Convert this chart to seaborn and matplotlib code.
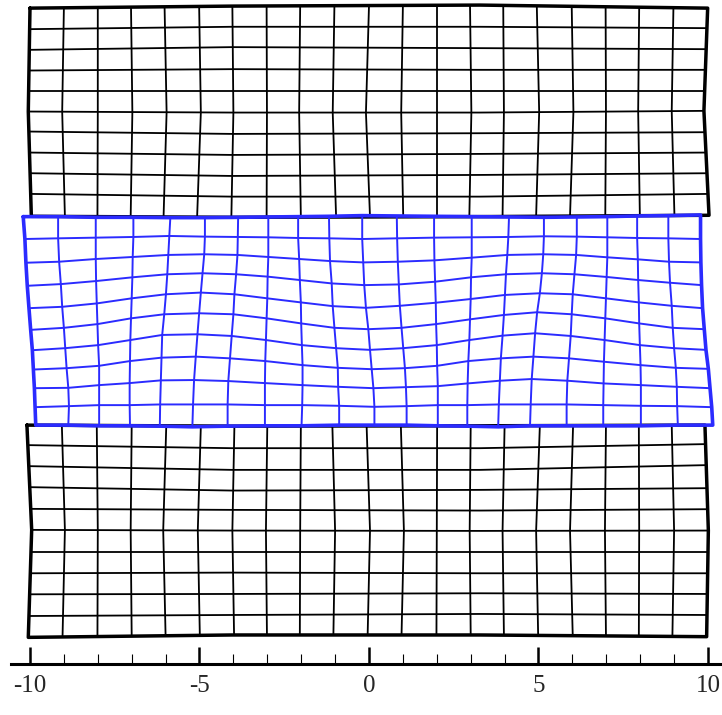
import numpy as np
import pandas as pd
import matplotlib
matplotlib.use("Agg")
import matplotlib.pyplot as plt
from matplotlib.ticker import MultipleLocator, FixedLocator, FixedFormatter
import seaborn as sns

# ---------------------------------------------------------------
# Deformed finite-element mesh of a three-layer strip.
# ---------------------------------------------------------------

# Middle (soft) layer, 11 rows x 21 columns of nodes.
# x of every node, one list per mesh column (rows top -> bottom)
mid_x_cols = [
    [-10.20, -10.15, -10.12, -10.08, -10.03, -9.98, -9.93, -9.90, -9.87, -9.85, -9.83],
    [-9.17, -9.17, -9.14, -9.09, -9.05, -9.00, -8.96, -8.92, -8.87, -8.85, -8.87],
    [-8.06, -8.06, -8.06, -8.05, -8.03, -8.01, -7.99, -7.96, -7.96, -7.96, -7.96],
    [-6.95, -6.95, -6.97, -6.98, -7.00, -7.02, -7.04, -7.05, -7.06, -7.06, -7.05],
    [-5.86, -5.89, -5.92, -5.95, -5.99, -6.04, -6.10, -6.12, -6.14, -6.16, -6.17],
    [-4.84, -4.84, -4.86, -4.91, -4.96, -5.01, -5.06, -5.11, -5.16, -5.19, -5.21],
    [-3.86, -3.87, -3.88, -3.92, -3.97, -4.00, -4.05, -4.10, -4.15, -4.17, -4.17],
    [-2.97, -2.97, -2.97, -2.99, -3.00, -3.02, -3.04, -3.06, -3.07, -3.07, -3.07],
    [-2.09, -2.09, -2.06, -2.04, -2.01, -2.00, -1.98, -1.96, -1.96, -1.97, -1.99],
    [-1.18, -1.17, -1.15, -1.10, -1.07, -1.02, -0.97, -0.92, -0.91, -0.88, -0.88],
    [-0.20, -0.20, -0.17, -0.14, -0.09, -0.02, 0.03, 0.08, 0.13, 0.16, 0.16],
    [0.82, 0.83, 0.85, 0.88, 0.91, 0.96, 1.01, 1.06, 1.09, 1.11, 1.11],
    [1.92, 1.92, 1.93, 1.95, 1.97, 1.98, 2.00, 2.01, 2.03, 2.03, 2.03],
    [3.03, 3.03, 3.03, 3.01, 3.00, 2.98, 2.96, 2.93, 2.91, 2.90, 2.90],
    [4.13, 4.11, 4.08, 4.04, 4.01, 3.98, 3.94, 3.89, 3.86, 3.83, 3.81],
    [5.16, 5.16, 5.14, 5.10, 5.04, 4.96, 4.90, 4.85, 4.80, 4.77, 4.75],
    [6.13, 6.13, 6.11, 6.06, 6.01, 5.98, 5.95, 5.90, 5.85, 5.83, 5.83],
    [7.03, 7.03, 7.03, 7.01, 6.99, 6.97, 6.95, 6.93, 6.92, 6.91, 6.91],
    [7.91, 7.91, 7.93, 7.94, 7.96, 7.97, 7.99, 8.01, 8.02, 8.02, 8.02],
    [8.83, 8.83, 8.85, 8.88, 8.93, 8.96, 9.00, 9.05, 9.08, 9.09, 9.11],
    [9.78, 9.78, 9.79, 9.81, 9.84, 9.89, 9.94, 10.01, 10.06, 10.11, 10.14],
]

# y of every middle-layer node, one list per mesh row (columns left -> right)
mid_y_rows = [
    [12.37, 12.37, 12.35, 12.35, 12.34, 12.34, 12.35, 12.36, 12.37, 12.38, 12.40,
     12.39, 12.38, 12.37, 12.36, 12.35, 12.36, 12.37, 12.39, 12.40, 12.42],
    [11.71, 11.73, 11.75, 11.77, 11.80, 11.78, 11.77, 11.76, 11.74, 11.73, 11.71,
     11.73, 11.75, 11.76, 11.77, 11.79, 11.78, 11.76, 11.74, 11.73, 11.71],
    [11.01, 11.04, 11.12, 11.18, 11.24, 11.26, 11.24, 11.18, 11.12, 11.06, 11.02,
     11.04, 11.08, 11.16, 11.24, 11.26, 11.24, 11.17, 11.11, 11.04, 11.02],
    [10.33, 10.38, 10.47, 10.58, 10.67, 10.70, 10.67, 10.60, 10.50, 10.40, 10.35,
     10.37, 10.45, 10.58, 10.67, 10.70, 10.67, 10.59, 10.50, 10.42, 10.35],
    [9.67, 9.71, 9.81, 9.96, 10.08, 10.13, 10.08, 9.96, 9.84, 9.73, 9.68,
     9.74, 9.83, 9.94, 10.06, 10.11, 10.08, 9.96, 9.84, 9.74, 9.67],
    [9.03, 9.09, 9.20, 9.37, 9.49, 9.52, 9.49, 9.37, 9.22, 9.09, 9.05,
     9.09, 9.20, 9.34, 9.47, 9.55, 9.49, 9.37, 9.22, 9.09, 9.05],
    [8.43, 8.49, 8.58, 8.73, 8.88, 8.90, 8.85, 8.73, 8.58, 8.49, 8.44,
     8.49, 8.58, 8.73, 8.86, 8.93, 8.85, 8.73, 8.58, 8.49, 8.44],
    [7.86, 7.90, 7.97, 8.11, 8.21, 8.24, 8.19, 8.11, 7.99, 7.91, 7.87,
     7.90, 7.97, 8.11, 8.19, 8.24, 8.19, 8.09, 7.99, 7.91, 7.88],
    [7.31, 7.32, 7.40, 7.46, 7.54, 7.55, 7.52, 7.46, 7.40, 7.35, 7.31,
     7.34, 7.37, 7.45, 7.53, 7.58, 7.53, 7.45, 7.40, 7.35, 7.31],
    [6.75, 6.78, 6.81, 6.81, 6.83, 6.83, 6.83, 6.81, 6.81, 6.79, 6.76,
     6.78, 6.81, 6.81, 6.83, 6.83, 6.83, 6.81, 6.79, 6.78, 6.75],
    [6.22, 6.22, 6.20, 6.20, 6.19, 6.17, 6.19, 6.20, 6.20, 6.22, 6.22,
     6.22, 6.20, 6.19, 6.17, 6.20, 6.20, 6.20, 6.20, 6.22, 6.22],
]

# Upper and lower (stiff) layers.
# Column lines: x at the top row, the middle row and the bottom row.
top_col_x = [
    [-10.00, -10.05, -9.96], [-9.00, -9.05, -8.97], [-8.00, -8.00, -8.01],
    [-7.02, -6.98, -7.03], [-6.03, -5.97, -6.06], [-5.01, -4.96, -5.07],
    [-4.03, -4.00, -4.06], [-3.02, -3.01, -3.02], [-2.03, -2.06, -2.01],
    [-1.02, -1.07, -0.97], [0.00, -0.09, 0.03], [1.00, 0.95, 1.01],
    [2.00, 2.00, 2.00], [2.98, 3.02, 2.96], [3.96, 3.98, 3.94],
    [4.95, 5.02, 4.93], [5.98, 6.03, 5.93], [6.98, 6.99, 6.97],
    [7.97, 7.94, 7.99], [8.98, 8.93, 9.01], [9.99, 9.88, 10.03],
]
bot_col_x = [
    [-10.09, -9.95, -10.05], [-9.06, -8.97, -9.04], [-8.03, -8.00, -8.01],
    [-7.00, -7.03, -7.00], [-5.98, -6.07, -6.00], [-4.96, -5.05, -4.99],
    [-3.97, -4.03, -3.98], [-3.00, -3.04, -3.01], [-2.01, -2.03, -2.04],
    [-1.08, -1.00, -1.05], [-0.07, 0.03, -0.04], [0.94, 1.03, 0.96],
    [2.01, 2.00, 1.99], [3.00, 2.97, 3.00], [4.00, 3.94, 3.98],
    [5.04, 4.93, 4.99], [6.02, 5.93, 6.01], [6.99, 6.96, 6.99],
    [7.96, 7.97, 7.96], [8.93, 9.00, 8.95], [9.91, 10.01, 9.96],
]
col_key_rows = [0, 5, 10]

# Row lines: y at the left edge, at two interior stations, and at the right edge.
row_stations = [-4.04, 3.27]
top_row_y = [
    [18.52, 18.58, 18.61, 18.52],
    [17.90, 17.97, 17.97, 17.93],
    [17.29, 17.37, 17.34, 17.31],
    [16.68, 16.72, 16.70, 16.70],
    [16.09, 16.09, 16.09, 16.09],
    [15.47, 15.44, 15.44, 15.49],
    [14.88, 14.81, 14.83, 14.86],
    [14.26, 14.19, 14.22, 14.26],
    [13.65, 13.57, 13.60, 13.65],
    [13.04, 12.96, 12.96, 13.04],
    [12.38, 12.35, 12.37, 12.41],
]
bot_row_y = [
    [6.22, 6.19, 6.20, 6.22],
    [5.63, 5.54, 5.54, 5.66],
    [5.01, 4.90, 4.90, 5.04],
    [4.39, 4.29, 4.31, 4.36],
    [3.75, 3.72, 3.70, 3.74],
    [3.13, 3.11, 3.10, 3.11],
    [2.49, 2.49, 2.49, 2.49],
    [1.85, 1.87, 1.85, 1.85],
    [1.23, 1.24, 1.26, 1.24],
    [0.59, 0.62, 0.65, 0.62],
    [-0.04, 0.03, 0.03, -0.02],
]

# Axis ticks
major_ticks = [-10, -5, 0, 5, 10]
major_labels = ["-10", "-5", "0", "5", "10"]

BLUE = "#2b2bff"
BLACK = "#000000"


def node_mesh_lines(x_cols, y_rows):
    """Row and column polylines of a mesh given every node."""
    X = np.asarray(x_cols, dtype=float).T
    Y = np.asarray(y_rows, dtype=float)
    nr, nc = X.shape
    inner = [(X[r], Y[r]) for r in range(1, nr - 1)]
    inner += [(X[:, c], Y[:, c]) for c in range(1, nc - 1)]
    ox = np.concatenate([X[0], X[1:, -1], X[-1, ::-1][1:], X[::-1, 0][1:]])
    oy = np.concatenate([Y[0], Y[1:, -1], Y[-1, ::-1][1:], Y[::-1, 0][1:]])
    return inner, (ox, oy)


def station_mesh_lines(col_x, row_y, stations, key_rows):
    """Row/column polylines of a mesh given column lines at key rows
    and row lines at fixed stations."""
    cx = np.asarray(col_x, dtype=float)
    ry = np.asarray(row_y, dtype=float)
    nr = ry.shape[0]
    rows = np.arange(nr)
    left_x = np.interp(rows, key_rows, cx[0])
    right_x = np.interp(rows, key_rows, cx[-1])
    hx = [np.concatenate([[left_x[r]], stations, [right_x[r]]]) for r in range(nr)]
    hy = [ry[r] for r in range(nr)]

    def col_line(c):
        xs = cx[c]
        ys = np.array([np.interp(xs[k], hx[r], hy[r]) for k, r in enumerate(key_rows)])
        return xs, ys

    inner = [(hx[r], hy[r]) for r in range(1, nr - 1)]
    inner += [col_line(c) for c in range(1, cx.shape[0] - 1)]
    lx, ly = col_line(0)
    rx, rgt_y = col_line(cx.shape[0] - 1)
    ox = np.concatenate([hx[0], rx[1:], hx[-1][::-1][1:], lx[::-1][1:]])
    oy = np.concatenate([hy[0], rgt_y[1:], hy[-1][::-1][1:], ly[::-1][1:]])
    return inner, (ox, oy)


def to_frame(lines):
    return pd.concat(
        [pd.DataFrame({"x": x, "y": y, "line": i}) for i, (x, y) in enumerate(lines)],
        ignore_index=True,
    )


sns.set_theme(style="white")
plt.rcParams["font.family"] = ["Liberation Serif", "DejaVu Serif"]
plt.rcParams["axes.unicode_minus"] = False

fig = plt.figure(figsize=(7.22, 7.15), dpi=100)
ax = fig.add_axes([11 / 722, 51 / 715, 711 / 722, 664 / 715])

layers = [
    (station_mesh_lines(top_col_x, top_row_y, row_stations, col_key_rows), BLACK, 1.3, 2.5),
    (station_mesh_lines(bot_col_x, bot_row_y, row_stations, col_key_rows), BLACK, 1.3, 2.5),
    (node_mesh_lines(mid_x_cols, mid_y_rows), BLUE, 1.4, 2.6),
]

for (inner, outline), col, lw_in, lw_out in layers:
    sns.lineplot(data=to_frame(inner), x="x", y="y", units="line", estimator=None,
                 sort=False, color=col, linewidth=lw_in, ax=ax, legend=False)
    sns.lineplot(data=to_frame([outline]), x="x", y="y", units="line", estimator=None,
                 sort=False, color=col, linewidth=lw_out, ax=ax, legend=False,
                 solid_joinstyle="round")

ax.set_xlim(-10.56, 10.413)
ax.set_ylim(-0.826, 18.76)
ax.set_xlabel("")
ax.set_ylabel("")
ax.set_yticks([])

for side in ("left", "right", "top"):
    ax.spines[side].set_visible(False)
ax.spines["bottom"].set_linewidth(2.2)
ax.spines["bottom"].set_color(BLACK)

ax.xaxis.set_major_locator(FixedLocator(major_ticks))
ax.xaxis.set_major_formatter(FixedFormatter(major_labels))
ax.xaxis.set_minor_locator(MultipleLocator(1))
ax.tick_params(axis="x", which="major", direction="in", length=12, width=1.8,
               color=BLACK, labelsize=18, pad=8, bottom=True)
ax.tick_params(axis="x", which="minor", direction="in", length=7, width=0.8,
               color=BLACK, bottom=True)
ax.patch.set_alpha(0)

fig.savefig("out.png", dpi=100, facecolor="white")
